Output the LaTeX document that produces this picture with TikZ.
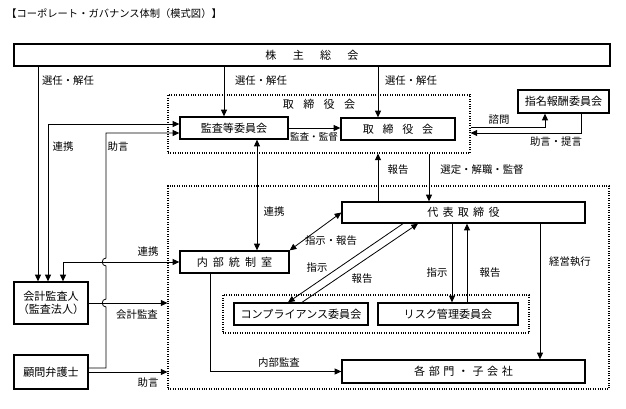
\documentclass[tikz,border=0pt]{standalone}
\usepackage{fontspec}
\setmainfont{Noto Sans CJK JP}
\usetikzlibrary{arrows.meta}

\tikzset{every picture/.style={line width=0.6pt}}
\tikzset{
  box/.style={draw, line width=1pt, inner sep=0pt, font=\fontsize{8.3}{10}\selectfont},
  dotbox/.style={draw, densely dotted, line width=0.8pt, inner sep=0pt},
  lbl/.style={inner sep=0pt, font=\fontsize{7.8}{9}\selectfont},
  arr/.style={-{Triangle[length=5pt,width=4.5pt]}},
  darr/.style={{Triangle[length=5pt,width=4.5pt]}-{Triangle[length=5pt,width=4.5pt]}},
}

\begin{document}
\begin{tikzpicture}[x=0.75pt,y=0.75pt,yscale=-1,xscale=1]
	\useasboundingbox (0,0) rectangle (626,408);

	% Title
	\node[lbl, anchor=west, font=\fontsize{7.7}{9}\selectfont] (title) at (6,14) {【コーポレート・ガバナンス体制（模式図）】};

	%Shape: Dotted Rectangles
	\node[dotbox, minimum width=226.5pt, minimum height=43.5pt] (torikai) at (319,124) {};
	\node[dotbox, minimum width=330.75pt, minimum height=152.25pt] (shikko) at (388.5,287.5) {};
	\node[dotbox, minimum width=229.5pt, minimum height=28.5pt] (iinkai) at (376,314) {};

	%Shape: Boxes
	\node[box, minimum width=447pt, minimum height=16.5pt] (kabu) at (312,55) {株\hspace{1.47em}主\hspace{1.47em}総\hspace{1.47em}会};
	\node[lbl, font=\fontsize{8.3}{10}\selectfont] (torikaittl) at (319,104) {取\hspace{0.84em}締\hspace{0.84em}役\hspace{0.84em}会};
	\node[box, minimum width=81pt, minimum height=16.5pt] (kansa) at (234,128) {監査等委員会};
	\node[box, minimum width=85.5pt, minimum height=16.5pt] (tori) at (398,129) {取\hspace{0.79em}締\hspace{0.79em}役\hspace{0.79em}会};
	\node[box, minimum width=68.25pt, minimum height=17.25pt] (shimei) at (563.5,101.5) {指名報酬委員会};
	\node[box, minimum width=182.25pt, minimum height=15.75pt] (daihyo) at (463.5,212.5) {代\hspace{0.38em}表\hspace{0.38em}取\hspace{0.38em}締\hspace{0.38em}役};
	\node[box, minimum width=81.75pt, minimum height=16.5pt] (naibu) at (234.5,262) {内\hspace{0.45em}部\hspace{0.45em}統\hspace{0.45em}制\hspace{0.45em}室};
	\node[box, minimum width=100.5pt, minimum height=16.5pt] (comp) at (301,314) {コンプライアンス委員会};
	\node[box, minimum width=105pt, minimum height=16.5pt] (risk) at (448,314) {リスク管理委員会};
	\node[box, minimum width=182.25pt, minimum height=17.25pt] (kakubu) at (463.5,371.5) {各\hspace{0.32em}部\hspace{0.32em}門\hspace{0.32em}・\hspace{0.32em}子\hspace{0.32em}会\hspace{0.32em}社};
	\node[box, minimum width=55.5pt, minimum height=31.5pt, align=center] (kaikei) at (51,303) {会計監査人\\（監査法人）};
	\node[box, minimum width=55.5pt, minimum height=25.5pt] (komon) at (51,372) {顧問弁護士};

	%Straight Lines
	\draw[arr] (38,0 |- kabu.south) -- (38,0 |- kaikei.north);
	\draw[arr] (224,0 |- kabu.south) -- (224,0 |- kansa.north);
	\draw[arr] (378,0 |- kabu.south) -- (378,0 |- tori.north);
	\draw[arr] (kansa.east) -- (kansa.east -| tori.west);
	\draw[arr] (torikai.east |- 0,127) -| (545,0 |- shimei.south);
	\draw[arr] (581,0 |- shimei.south) |- (torikai.east |- 0,133);
	\draw[arr] (378,0 |- daihyo.north) -- (378,0 |- torikai.south);
	\draw[arr] (429,0 |- torikai.south) -- (429,0 |- daihyo.north);
	\draw[darr] (257,0 |- kansa.south) -- (257,0 |- naibu.north);
	\draw[darr] (naibu.north east) -- (daihyo.west);
	\draw[arr] (403,0 |- daihyo.south) -- (288,0 |- comp.north);
	\draw[arr] (302,0 |- comp.north) -- (418,0 |- daihyo.south);
	\draw[arr] (452,0 |- daihyo.south) -- (452,0 |- risk.north);
	\draw[arr] (467,0 |- risk.north) -- (467,0 |- daihyo.south);
	\draw[arr] (540,0 |- daihyo.south) -- (540,0 |- kakubu.north);
	\draw[arr] (210,0 |- naibu.south) |- (kakubu.west);
	\draw[darr] (kansa.west |- 0,124) -| (48,0 |- kaikei.north);
	\draw[arr] (komon.east |- 0,368) -- (106,368) -- (106,307) .. controls (101,307) and (101,299) .. (106,299) -- (106,266) .. controls (101,266) and (101,258) .. (106,258) -- (106,133) -- (kansa.west |- 0,133);
	\draw[darr] (63,0 |- kaikei.north) |- (naibu.west);
	\draw[arr] (kaikei.east) -- (kaikei.east -| shikko.west);
	\draw[arr] (komon.east) -- (komon.east -| shikko.west);

	% Text Node
	\node[lbl] (l1) at (68,81) {選任・解任};
	\node[lbl] (l2) at (261,81) {選任・解任};
	\node[lbl] (l3) at (411,81) {選任・解任};
	\node[lbl, font=\fontsize{7.2}{9}\selectfont] (l4) at (314,137) {監査・監督};
	\node[lbl] (l5) at (499,120) {諮問};
	\node[lbl] (l6) at (556,142) {助言・提言};
	\node[lbl] (l7) at (398,170) {報告};
	\node[lbl] (l8) at (482,170) {選定・解職・監督};
	\node[lbl] (l9) at (274,212) {連携};
	\node[lbl] (l10) at (331,241) {指示・報告};
	\node[lbl] (l11) at (317,268) {指示};
	\node[lbl] (l12) at (362,279) {報告};
	\node[lbl] (l13) at (437,273) {指示};
	\node[lbl] (l14) at (490,273) {報告};
	\node[lbl] (l15) at (570,262) {経営執行};
	\node[lbl] (l16) at (279,363) {内部監査};
	\node[lbl] (l17) at (63,147) {連携};
	\node[lbl] (l18) at (118,147) {助言};
	\node[lbl] (l19) at (148,252) {連携};
	\node[lbl] (l20) at (137,315) {会計監査};
	\node[lbl] (l21) at (148,383) {助言};

\end{tikzpicture}
\end{document}
